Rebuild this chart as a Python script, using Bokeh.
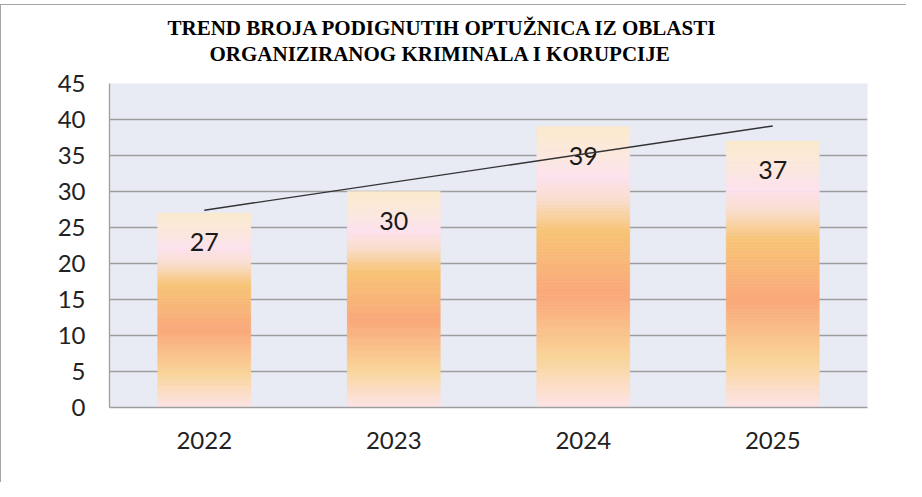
import numpy as np
from bokeh.plotting import figure
from bokeh.models import FactorRange, Range1d, FixedTicker, Title, ColumnDataSource
from bokeh.core.properties import value
from bokeh.embed import file_html
from bokeh.resources import INLINE

# ---- data ----
years = ["2022", "2023", "2024", "2025"]
counts = [27, 30, 39, 37]
y_ticks = [0, 5, 10, 15, 20, 25, 30, 35, 40, 45]
title_line1 = "TREND BROJA PODIGNUTIH OPTUŽNICA  IZ OBLASTI"
title_line2 = "ORGANIZIRANOG KRIMINALA  I KORUPCIJE"

# ---- styling: vertical gradient stops (fraction from bar top, rgb) ----
grad_pos = [0.00, 0.10, 0.18, 0.26, 0.37, 0.60, 0.82, 1.00]
grad_rgb = [(251, 234, 205), (252, 232, 222), (253, 226, 238), (250, 222, 205),
            (248, 196, 118), (250, 168, 122), (250, 212, 152), (253, 228, 232)]

def grad_color(t):
    r = int(round(np.interp(t, grad_pos, [c[0] for c in grad_rgb])))
    g = int(round(np.interp(t, grad_pos, [c[1] for c in grad_rgb])))
    b = int(round(np.interp(t, grad_pos, [c[2] for c in grad_rgb])))
    return "#%02x%02x%02x" % (r, g, b)

FONT = "Lato"

p = figure(x_range=FactorRange(*years), y_range=Range1d(0, 45),
           width=906, height=478, output_backend="svg", toolbar_location=None,
           min_border_left=108, min_border_right=40, min_border_top=78, min_border_bottom=76)
p.styles = {"border-top": "1px solid #a6a6a6", "border-left": "1px solid #a6a6a6",
            "margin-top": "4px"}
p.background_fill_color = "#E8EAF4"
p.border_fill_color = "white"
p.outline_line_color = None

p.xgrid.grid_line_color = None
p.ygrid.ticker = FixedTicker(ticks=y_ticks)
p.ygrid.grid_line_color = "#9E9E9E"
p.ygrid.grid_line_width = 1.3

p.yaxis.ticker = FixedTicker(ticks=y_ticks)
for ax in (p.xaxis, p.yaxis):
    ax.axis_line_color = "#9E9E9E"
    ax.axis_line_width = 1.3
    ax.major_tick_line_color = None
    ax.minor_tick_line_color = None
    ax.major_tick_out = 0
    ax.major_tick_in = 0
    ax.major_label_text_font = FONT
    ax.major_label_text_font_size = "24px"
    ax.major_label_text_color = "#222222"
p.yaxis.major_label_standoff = 24
p.xaxis.major_label_standoff = 24

# gradient bars built as thin strips of each bar
N = 90
xs, bottoms, tops, colors = [], [], [], []
for yr, v in zip(years, counts):
    for j in range(N):
        xs.append(yr)
        bottoms.append(v * j / N)
        tops.append(v * (j + 1) / N)
        colors.append(grad_color(1 - (j + 0.5) / N))
src = ColumnDataSource(dict(x=xs, bottom=bottoms, top=tops, color=colors))
p.vbar(x="x", bottom="bottom", top="top", width=0.49, fill_color="color",
       line_color="color", line_width=0.6, source=src)

# value labels
p.text(x=years, y=counts, text=[str(c) for c in counts], text_align="center",
       text_baseline="middle", y_offset=29, text_font=value(FONT),
       text_font_size="25px", text_color="#1a1a1a")

# linear trend line
idx = np.arange(len(counts))
slope, intercept = np.polyfit(idx, counts, 1)
p.line(x=[years[0], years[-1]], y=[intercept, intercept + slope * idx[-1]],
       line_color="#333333", line_width=1.4)

# title: blank spacer next to the plot, then line 2, then line 1 (outermost)
p.add_layout(Title(text=" ", standoff=15, text_font_size="1px", text_color="white"), "above")
p.add_layout(Title(text=title_line2, align="left", offset=100, standoff=0,
                   text_font="Liberation Serif", text_font_style="bold",
                   text_font_size="21px", text_color="#000000"), "above")
p.add_layout(Title(text=title_line1, align="left", offset=58, standoff=0,
                   text_font="Liberation Serif", text_font_style="bold",
                   text_font_size="21px", text_color="#000000"), "above")

open("out.html", "w").write(file_html(p, INLINE))
